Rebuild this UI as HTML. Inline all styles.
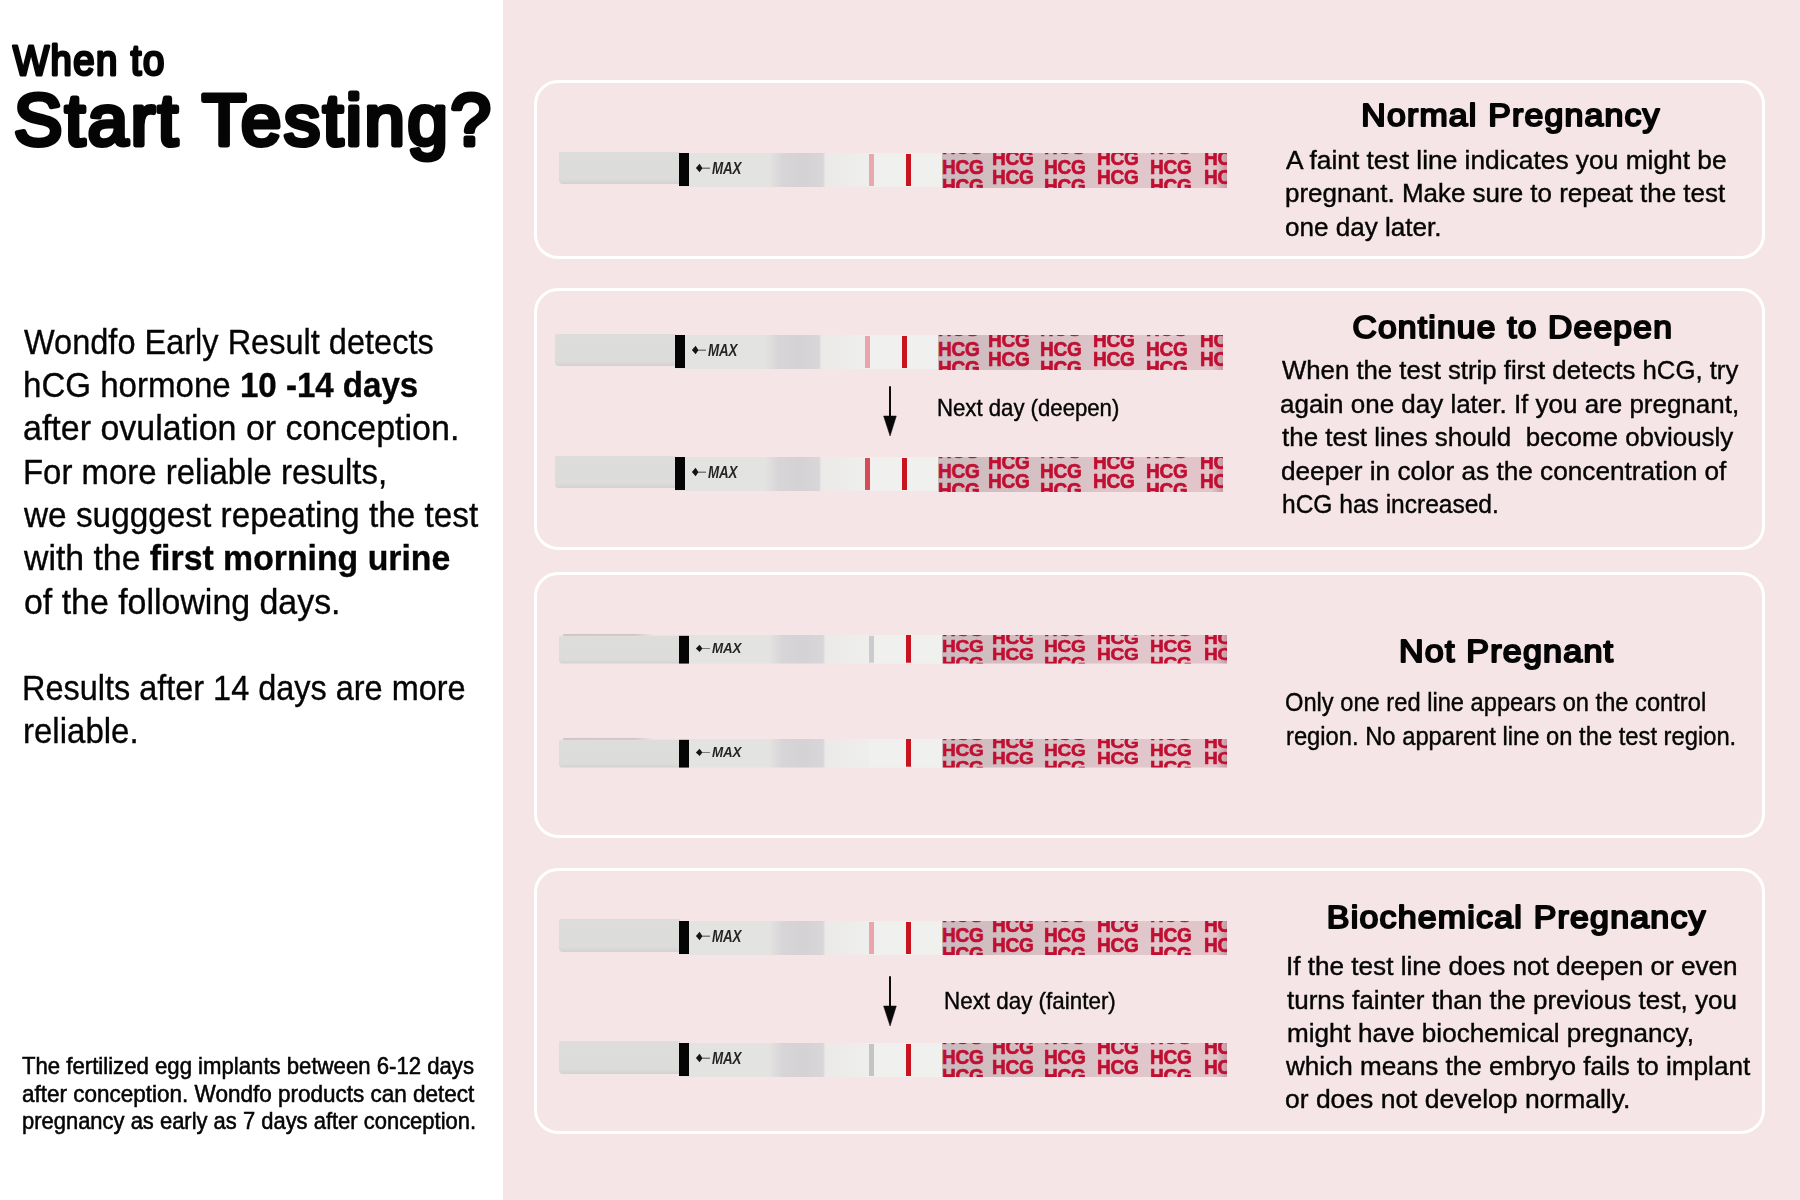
<!DOCTYPE html>
<html lang="en"><head><meta charset="utf-8"><title>When to Start Testing?</title>
<style>
html,body{margin:0;padding:0}
body{width:1800px;height:1200px;position:relative;overflow:hidden;background:#fff;font-family:"Liberation Sans",sans-serif;color:#050505}
#pink{position:absolute;left:503px;top:0;width:1297px;height:1200px;background:#f5e5e6}
.panel{position:absolute;box-sizing:border-box;border:3.7px solid #fff;border-radius:24px}
.t{position:absolute;white-space:nowrap;line-height:1;transform-origin:0 0;margin:0;padding:0;-webkit-text-stroke-color:#050505}
.t b{font-weight:700}
svg{position:absolute;overflow:visible}
svg.hd{left:0;top:0}
svg.hd text{font-family:"Liberation Sans",sans-serif;font-weight:400;fill:#050505;stroke:#050505;stroke-linejoin:round;stroke-linecap:round}
.strip{position:absolute;width:668px;height:35px;transform-origin:0 0;filter:blur(0.45px)}
.strip div{position:absolute}
.hz{left:383.4px;width:284.2px;height:34.3px;overflow:hidden;background:linear-gradient(90deg,#cbbbbe 0,#d5c0c3 35%,#e1c7cb 72%,#e2c4c9 96%,#c59aa3 100%)}
.h{position:absolute;font-weight:700;font-size:20.6px;line-height:1;color:#c00f32;-webkit-text-stroke:0.65px #c00f32;transform-origin:0 0;transform:scaleX(0.925);white-space:nowrap;letter-spacing:-0.3px}
.mx{position:absolute;font-weight:700;font-style:italic;line-height:1;color:#151515;transform-origin:0 0;transform:scaleX(0.77);white-space:nowrap;letter-spacing:-0.2px;opacity:.92}
</style></head><body>
<div id="pink"></div>
<div class="panel" style="left:534.2px;top:79.8px;width:1230.6px;height:179.7px"></div>
<div class="panel" style="left:534.2px;top:287.9px;width:1230.6px;height:262.1px"></div>
<div class="panel" style="left:534.2px;top:571.9px;width:1230.6px;height:266.1px"></div>
<div class="panel" style="left:534.2px;top:867.9px;width:1230.6px;height:265.9px"></div>
<div class="strip" style="left:559px;top:152.3px">
<div style="left:0;top:-0.60px;width:121px;height:32.6px;background:linear-gradient(180deg,#dddddb 0,#dcdcda 85%,#d2d2d0 100%);border-radius:1px 0 0 4px"></div>
<div style="left:120px;top:0.50px;width:190px;height:34.0px;background:linear-gradient(90deg,#e3e3e1 0,#e3e3e1 90px,#d8d5d8 103px,#d5d2d5 125px,#d8d6d8 144px,#ebeae8 146.5px,#eeeeec 190px)"></div>
<div style="left:120.2px;top:0.5px;width:9.4px;height:33.6px;background:#050505"></div>
<div style="left:310px;top:1.00px;width:74px;height:34.0px;background:#f0f0ee"></div>
<div style="left:310px;top:2.00px;width:5.4px;height:32.0px;background:#e9a7ae"></div>
<div style="left:346.6px;top:1.50px;width:5.8px;height:32.5px;background:#c8141f"></div>
<div class="hz" style="top:1.20px">
<span class="h" style="left:-0.6px;top:-16.07px">HCG</span>
<span class="h" style="left:-0.6px;top:3.43px">HCG</span>
<span class="h" style="left:-0.6px;top:22.93px">HCG</span>
<span class="h" style="left:49.6px;top:-5.87px">HCG</span>
<span class="h" style="left:49.6px;top:13.63px">HCG</span>
<span class="h" style="left:49.6px;top:33.13px">HCG</span>
<span class="h" style="left:101.8px;top:-16.07px">HCG</span>
<span class="h" style="left:101.8px;top:3.43px">HCG</span>
<span class="h" style="left:101.8px;top:22.93px">HCG</span>
<span class="h" style="left:155.0px;top:-5.87px">HCG</span>
<span class="h" style="left:155.0px;top:13.63px">HCG</span>
<span class="h" style="left:155.0px;top:33.13px">HCG</span>
<span class="h" style="left:207.6px;top:-16.07px">HCG</span>
<span class="h" style="left:207.6px;top:3.43px">HCG</span>
<span class="h" style="left:207.6px;top:22.93px">HCG</span>
<span class="h" style="left:261.4px;top:-5.87px">HCG</span>
<span class="h" style="left:261.4px;top:13.63px">HCG</span>
<span class="h" style="left:261.4px;top:33.13px">HCG</span>
</div>
<svg style="left:136px;top:8.9px" width="20" height="14" viewBox="0 0 20 14"><path d="M0.9 7 L4.6 2.7 L7.2 6.65 L15 6.65 L15 7.4 L7.2 7.4 L4.6 11.3 Z" fill="#141414"/></svg>
<span class="mx" style="left:152.6px;top:7.67px;font-size:17.4px">MAX</span>
</div>
<div class="strip" style="left:555px;top:334.3px">
<div style="left:0;top:-0.60px;width:121px;height:32.6px;background:linear-gradient(180deg,#dddddb 0,#dcdcda 85%,#d2d2d0 100%);border-radius:1px 0 0 4px"></div>
<div style="left:120px;top:0.50px;width:190px;height:34.0px;background:linear-gradient(90deg,#e3e3e1 0,#e3e3e1 90px,#d8d5d8 103px,#d5d2d5 125px,#d8d6d8 144px,#ebeae8 146.5px,#eeeeec 190px)"></div>
<div style="left:120.2px;top:0.5px;width:9.4px;height:33.6px;background:#050505"></div>
<div style="left:310px;top:1.00px;width:74px;height:34.0px;background:#f0f0ee"></div>
<div style="left:310px;top:2.00px;width:5.4px;height:32.0px;background:#eaa4ab"></div>
<div style="left:346.6px;top:1.50px;width:5.8px;height:32.5px;background:#c8141f"></div>
<div class="hz" style="top:1.20px">
<span class="h" style="left:-0.6px;top:-16.07px">HCG</span>
<span class="h" style="left:-0.6px;top:3.43px">HCG</span>
<span class="h" style="left:-0.6px;top:22.93px">HCG</span>
<span class="h" style="left:49.6px;top:-5.87px">HCG</span>
<span class="h" style="left:49.6px;top:13.63px">HCG</span>
<span class="h" style="left:49.6px;top:33.13px">HCG</span>
<span class="h" style="left:101.8px;top:-16.07px">HCG</span>
<span class="h" style="left:101.8px;top:3.43px">HCG</span>
<span class="h" style="left:101.8px;top:22.93px">HCG</span>
<span class="h" style="left:155.0px;top:-5.87px">HCG</span>
<span class="h" style="left:155.0px;top:13.63px">HCG</span>
<span class="h" style="left:155.0px;top:33.13px">HCG</span>
<span class="h" style="left:207.6px;top:-16.07px">HCG</span>
<span class="h" style="left:207.6px;top:3.43px">HCG</span>
<span class="h" style="left:207.6px;top:22.93px">HCG</span>
<span class="h" style="left:261.4px;top:-5.87px">HCG</span>
<span class="h" style="left:261.4px;top:13.63px">HCG</span>
<span class="h" style="left:261.4px;top:33.13px">HCG</span>
</div>
<svg style="left:136px;top:8.9px" width="20" height="14" viewBox="0 0 20 14"><path d="M0.9 7 L4.6 2.7 L7.2 6.65 L15 6.65 L15 7.4 L7.2 7.4 L4.6 11.3 Z" fill="#141414"/></svg>
<span class="mx" style="left:152.6px;top:7.67px;font-size:17.4px">MAX</span>
</div>
<div class="strip" style="left:555px;top:456.3px">
<div style="left:0;top:-0.60px;width:121px;height:32.6px;background:linear-gradient(180deg,#dddddb 0,#dcdcda 85%,#d2d2d0 100%);border-radius:1px 0 0 4px"></div>
<div style="left:120px;top:0.50px;width:190px;height:34.0px;background:linear-gradient(90deg,#e3e3e1 0,#e3e3e1 90px,#d8d5d8 103px,#d5d2d5 125px,#d8d6d8 144px,#ebeae8 146.5px,#eeeeec 190px)"></div>
<div style="left:120.2px;top:0.5px;width:9.4px;height:33.6px;background:#050505"></div>
<div style="left:310px;top:1.00px;width:74px;height:34.0px;background:#f0f0ee"></div>
<div style="left:310px;top:2.00px;width:5.4px;height:32.0px;background:#d84a58"></div>
<div style="left:346.6px;top:1.50px;width:5.8px;height:32.5px;background:#c8141f"></div>
<div class="hz" style="top:1.20px">
<span class="h" style="left:-0.6px;top:-16.07px">HCG</span>
<span class="h" style="left:-0.6px;top:3.43px">HCG</span>
<span class="h" style="left:-0.6px;top:22.93px">HCG</span>
<span class="h" style="left:49.6px;top:-5.87px">HCG</span>
<span class="h" style="left:49.6px;top:13.63px">HCG</span>
<span class="h" style="left:49.6px;top:33.13px">HCG</span>
<span class="h" style="left:101.8px;top:-16.07px">HCG</span>
<span class="h" style="left:101.8px;top:3.43px">HCG</span>
<span class="h" style="left:101.8px;top:22.93px">HCG</span>
<span class="h" style="left:155.0px;top:-5.87px">HCG</span>
<span class="h" style="left:155.0px;top:13.63px">HCG</span>
<span class="h" style="left:155.0px;top:33.13px">HCG</span>
<span class="h" style="left:207.6px;top:-16.07px">HCG</span>
<span class="h" style="left:207.6px;top:3.43px">HCG</span>
<span class="h" style="left:207.6px;top:22.93px">HCG</span>
<span class="h" style="left:261.4px;top:-5.87px">HCG</span>
<span class="h" style="left:261.4px;top:13.63px">HCG</span>
<span class="h" style="left:261.4px;top:33.13px">HCG</span>
</div>
<svg style="left:136px;top:8.9px" width="20" height="14" viewBox="0 0 20 14"><path d="M0.9 7 L4.6 2.7 L7.2 6.65 L15 6.65 L15 7.4 L7.2 7.4 L4.6 11.3 Z" fill="#141414"/></svg>
<span class="mx" style="left:152.6px;top:7.67px;font-size:17.4px">MAX</span>
</div>
<div class="strip" style="left:559px;top:635.3px;transform:scaleY(0.84)">
<div style="left:3.5px;top:-1.20px;width:90px;height:2.6px;border-radius:2px;background:linear-gradient(90deg,#c3b7b7 0,#c6baba 80%,rgba(215,205,205,0) 100%)"></div>
<div style="left:0;top:1.10px;width:121px;height:32.6px;background:linear-gradient(180deg,#dddddb 0,#dcdcda 85%,#d2d2d0 100%);border-radius:1px 0 0 4px"></div>
<div style="left:120px;top:-0.22px;width:190px;height:34.0px;background:linear-gradient(90deg,#e3e3e1 0,#e3e3e1 90px,#d8d5d8 103px,#d5d2d5 125px,#d8d6d8 144px,#ebeae8 146.5px,#eeeeec 190px)"></div>
<div style="left:120.2px;top:0.5px;width:9.4px;height:33.6px;background:#050505"></div>
<div style="left:310px;top:-0.45px;width:74px;height:34.0px;background:#f0f0ee"></div>
<div style="left:310px;top:0.55px;width:5.4px;height:32.0px;background:#cbcbcd"></div>
<div style="left:346.6px;top:0.05px;width:5.8px;height:32.5px;background:#c8141f"></div>
<div class="hz" style="top:-0.25px">
<span class="h" style="left:-0.6px;top:-16.07px">HCG</span>
<span class="h" style="left:-0.6px;top:3.43px">HCG</span>
<span class="h" style="left:-0.6px;top:22.93px">HCG</span>
<span class="h" style="left:49.6px;top:-5.87px">HCG</span>
<span class="h" style="left:49.6px;top:13.63px">HCG</span>
<span class="h" style="left:49.6px;top:33.13px">HCG</span>
<span class="h" style="left:101.8px;top:-16.07px">HCG</span>
<span class="h" style="left:101.8px;top:3.43px">HCG</span>
<span class="h" style="left:101.8px;top:22.93px">HCG</span>
<span class="h" style="left:155.0px;top:-5.87px">HCG</span>
<span class="h" style="left:155.0px;top:13.63px">HCG</span>
<span class="h" style="left:155.0px;top:33.13px">HCG</span>
<span class="h" style="left:207.6px;top:-16.07px">HCG</span>
<span class="h" style="left:207.6px;top:3.43px">HCG</span>
<span class="h" style="left:207.6px;top:22.93px">HCG</span>
<span class="h" style="left:261.4px;top:-5.87px">HCG</span>
<span class="h" style="left:261.4px;top:13.63px">HCG</span>
<span class="h" style="left:261.4px;top:33.13px">HCG</span>
</div>
<svg style="left:136px;top:8.9px" width="20" height="14" viewBox="0 0 20 14"><path d="M0.9 7 L4.6 2.7 L7.2 6.65 L15 6.65 L15 7.4 L7.2 7.4 L4.6 11.3 Z" fill="#141414"/></svg>
<span class="mx" style="left:152.6px;top:7.67px;font-size:17.4px">MAX</span>
</div>
<div class="strip" style="left:559px;top:739.3px;transform:scaleY(0.84)">
<div style="left:3.5px;top:-1.20px;width:90px;height:2.6px;border-radius:2px;background:linear-gradient(90deg,#c3b7b7 0,#c6baba 80%,rgba(215,205,205,0) 100%)"></div>
<div style="left:0;top:1.10px;width:121px;height:32.6px;background:linear-gradient(180deg,#dddddb 0,#dcdcda 85%,#d2d2d0 100%);border-radius:1px 0 0 4px"></div>
<div style="left:120px;top:-0.22px;width:190px;height:34.0px;background:linear-gradient(90deg,#e3e3e1 0,#e3e3e1 90px,#d8d5d8 103px,#d5d2d5 125px,#d8d6d8 144px,#ebeae8 146.5px,#eeeeec 190px)"></div>
<div style="left:120.2px;top:0.5px;width:9.4px;height:33.6px;background:#050505"></div>
<div style="left:310px;top:-0.45px;width:74px;height:34.0px;background:#f0f0ee"></div>
<div style="left:346.6px;top:0.05px;width:5.8px;height:32.5px;background:#c8141f"></div>
<div class="hz" style="top:-0.25px">
<span class="h" style="left:-0.6px;top:-16.07px">HCG</span>
<span class="h" style="left:-0.6px;top:3.43px">HCG</span>
<span class="h" style="left:-0.6px;top:22.93px">HCG</span>
<span class="h" style="left:49.6px;top:-5.87px">HCG</span>
<span class="h" style="left:49.6px;top:13.63px">HCG</span>
<span class="h" style="left:49.6px;top:33.13px">HCG</span>
<span class="h" style="left:101.8px;top:-16.07px">HCG</span>
<span class="h" style="left:101.8px;top:3.43px">HCG</span>
<span class="h" style="left:101.8px;top:22.93px">HCG</span>
<span class="h" style="left:155.0px;top:-5.87px">HCG</span>
<span class="h" style="left:155.0px;top:13.63px">HCG</span>
<span class="h" style="left:155.0px;top:33.13px">HCG</span>
<span class="h" style="left:207.6px;top:-16.07px">HCG</span>
<span class="h" style="left:207.6px;top:3.43px">HCG</span>
<span class="h" style="left:207.6px;top:22.93px">HCG</span>
<span class="h" style="left:261.4px;top:-5.87px">HCG</span>
<span class="h" style="left:261.4px;top:13.63px">HCG</span>
<span class="h" style="left:261.4px;top:33.13px">HCG</span>
</div>
<svg style="left:136px;top:8.9px" width="20" height="14" viewBox="0 0 20 14"><path d="M0.9 7 L4.6 2.7 L7.2 6.65 L15 6.65 L15 7.4 L7.2 7.4 L4.6 11.3 Z" fill="#141414"/></svg>
<span class="mx" style="left:152.6px;top:7.67px;font-size:17.4px">MAX</span>
</div>
<div class="strip" style="left:559px;top:920.0px">
<div style="left:0;top:-0.60px;width:121px;height:32.6px;background:linear-gradient(180deg,#dddddb 0,#dcdcda 85%,#d2d2d0 100%);border-radius:1px 0 0 4px"></div>
<div style="left:120px;top:0.50px;width:190px;height:34.0px;background:linear-gradient(90deg,#e3e3e1 0,#e3e3e1 90px,#d8d5d8 103px,#d5d2d5 125px,#d8d6d8 144px,#ebeae8 146.5px,#eeeeec 190px)"></div>
<div style="left:120.2px;top:0.5px;width:9.4px;height:33.6px;background:#050505"></div>
<div style="left:310px;top:1.00px;width:74px;height:34.0px;background:#f0f0ee"></div>
<div style="left:310px;top:2.00px;width:5.4px;height:32.0px;background:#eaa4ab"></div>
<div style="left:346.6px;top:1.50px;width:5.8px;height:32.5px;background:#c8141f"></div>
<div class="hz" style="top:1.20px">
<span class="h" style="left:-0.6px;top:-16.07px">HCG</span>
<span class="h" style="left:-0.6px;top:3.43px">HCG</span>
<span class="h" style="left:-0.6px;top:22.93px">HCG</span>
<span class="h" style="left:49.6px;top:-5.87px">HCG</span>
<span class="h" style="left:49.6px;top:13.63px">HCG</span>
<span class="h" style="left:49.6px;top:33.13px">HCG</span>
<span class="h" style="left:101.8px;top:-16.07px">HCG</span>
<span class="h" style="left:101.8px;top:3.43px">HCG</span>
<span class="h" style="left:101.8px;top:22.93px">HCG</span>
<span class="h" style="left:155.0px;top:-5.87px">HCG</span>
<span class="h" style="left:155.0px;top:13.63px">HCG</span>
<span class="h" style="left:155.0px;top:33.13px">HCG</span>
<span class="h" style="left:207.6px;top:-16.07px">HCG</span>
<span class="h" style="left:207.6px;top:3.43px">HCG</span>
<span class="h" style="left:207.6px;top:22.93px">HCG</span>
<span class="h" style="left:261.4px;top:-5.87px">HCG</span>
<span class="h" style="left:261.4px;top:13.63px">HCG</span>
<span class="h" style="left:261.4px;top:33.13px">HCG</span>
</div>
<svg style="left:136px;top:8.9px" width="20" height="14" viewBox="0 0 20 14"><path d="M0.9 7 L4.6 2.7 L7.2 6.65 L15 6.65 L15 7.4 L7.2 7.4 L4.6 11.3 Z" fill="#141414"/></svg>
<span class="mx" style="left:152.6px;top:7.67px;font-size:17.4px">MAX</span>
</div>
<div class="strip" style="left:559px;top:1042.0px">
<div style="left:0;top:-0.60px;width:121px;height:32.6px;background:linear-gradient(180deg,#dddddb 0,#dcdcda 85%,#d2d2d0 100%);border-radius:1px 0 0 4px"></div>
<div style="left:120px;top:0.50px;width:190px;height:34.0px;background:linear-gradient(90deg,#e3e3e1 0,#e3e3e1 90px,#d8d5d8 103px,#d5d2d5 125px,#d8d6d8 144px,#ebeae8 146.5px,#eeeeec 190px)"></div>
<div style="left:120.2px;top:0.5px;width:9.4px;height:33.6px;background:#050505"></div>
<div style="left:310px;top:1.00px;width:74px;height:34.0px;background:#f0f0ee"></div>
<div style="left:310px;top:2.00px;width:5.4px;height:32.0px;background:#c4c4c4"></div>
<div style="left:346.6px;top:1.50px;width:5.8px;height:32.5px;background:#c8141f"></div>
<div class="hz" style="top:1.20px">
<span class="h" style="left:-0.6px;top:-16.07px">HCG</span>
<span class="h" style="left:-0.6px;top:3.43px">HCG</span>
<span class="h" style="left:-0.6px;top:22.93px">HCG</span>
<span class="h" style="left:49.6px;top:-5.87px">HCG</span>
<span class="h" style="left:49.6px;top:13.63px">HCG</span>
<span class="h" style="left:49.6px;top:33.13px">HCG</span>
<span class="h" style="left:101.8px;top:-16.07px">HCG</span>
<span class="h" style="left:101.8px;top:3.43px">HCG</span>
<span class="h" style="left:101.8px;top:22.93px">HCG</span>
<span class="h" style="left:155.0px;top:-5.87px">HCG</span>
<span class="h" style="left:155.0px;top:13.63px">HCG</span>
<span class="h" style="left:155.0px;top:33.13px">HCG</span>
<span class="h" style="left:207.6px;top:-16.07px">HCG</span>
<span class="h" style="left:207.6px;top:3.43px">HCG</span>
<span class="h" style="left:207.6px;top:22.93px">HCG</span>
<span class="h" style="left:261.4px;top:-5.87px">HCG</span>
<span class="h" style="left:261.4px;top:13.63px">HCG</span>
<span class="h" style="left:261.4px;top:33.13px">HCG</span>
</div>
<svg style="left:136px;top:8.9px" width="20" height="14" viewBox="0 0 20 14"><path d="M0.9 7 L4.6 2.7 L7.2 6.65 L15 6.65 L15 7.4 L7.2 7.4 L4.6 11.3 Z" fill="#141414"/></svg>
<span class="mx" style="left:152.6px;top:7.67px;font-size:17.4px">MAX</span>
</div>
<svg style="left:879.5px;top:385.5px" width="20" height="51" viewBox="0 0 20 51"><path d="M9 0.4 Q10 -0.3 11 0.4 V30.5 H9 Z" fill="#0c0c0c"/><path d="M3.6 30 L16.3 30 L10.1 50 Z" fill="#080808" stroke="#080808" stroke-width="0.5" stroke-linejoin="round"/></svg>
<svg style="left:879.5px;top:975.5px" width="20" height="51" viewBox="0 0 20 51"><path d="M9 0.4 Q10 -0.3 11 0.4 V30.5 H9 Z" fill="#0c0c0c"/><path d="M3.6 30 L16.3 30 L10.1 50 Z" fill="#080808" stroke="#080808" stroke-width="0.5" stroke-linejoin="round"/></svg>
<svg class="hd" width="1800" height="1200" viewBox="0 0 1800 1200">
<text id="t0" transform="translate(12.92 74.50) scale(0.8982 1)" font-size="42.6" stroke-width="3.0" letter-spacing="1.65">When to</text>
<text id="t1" transform="translate(14.00 144.70) scale(0.9958 1)" font-size="72.7" stroke-width="5.0" letter-spacing="2.75">Start Testing?</text>
<text id="t14" transform="translate(1361.36 126.00) scale(1.0919 1)" font-size="31" stroke-width="2.0" letter-spacing="1.10">Normal Pregnancy</text>
<text id="t18" transform="translate(1352.46 337.90) scale(1.0853 1)" font-size="31" stroke-width="2.0" letter-spacing="1.10">Continue to Deepen</text>
<text id="t25" transform="translate(1398.88 662.00) scale(1.1000 1)" font-size="31" stroke-width="2.0" letter-spacing="1.10">Not Pregnant</text>
<text id="t28" transform="translate(1326.81 928.10) scale(1.0951 1)" font-size="31" stroke-width="2.0" letter-spacing="1.10">Biochemical Pregnancy</text>
</svg>
<div class="t" id="t2" style="left:23.98px;top:324.1px;font-size:35px;-webkit-text-stroke-width:0.35px;transform:scaleX(0.9291)">Wondfo Early Result detects</div>
<div class="t" id="t3" style="left:23.11px;top:367.4px;font-size:35px;-webkit-text-stroke-width:0.35px;transform:scaleX(0.9449)">hCG hormone <b>10 -14 days</b></div>
<div class="t" id="t4" style="left:23.05px;top:410.2px;font-size:35px;-webkit-text-stroke-width:0.35px;transform:scaleX(0.9708)">after ovulation or conception.</div>
<div class="t" id="t5" style="left:22.66px;top:453.7px;font-size:35px;-webkit-text-stroke-width:0.35px;transform:scaleX(0.9405)">For more reliable results,</div>
<div class="t" id="t6" style="left:24.49px;top:497.3px;font-size:35px;-webkit-text-stroke-width:0.35px;transform:scaleX(0.9530)">we sugggest repeating the test</div>
<div class="t" id="t7" style="left:24.01px;top:540.2px;font-size:35px;-webkit-text-stroke-width:0.35px;transform:scaleX(0.9655)">with the <b>first morning urine</b></div>
<div class="t" id="t8" style="left:23.55px;top:583.5px;font-size:35px;-webkit-text-stroke-width:0.35px;transform:scaleX(0.9683)">of the following days.</div>
<div class="t" id="t9" style="left:22.19px;top:669.6px;font-size:35px;-webkit-text-stroke-width:0.35px;transform:scaleX(0.9269)">Results after 14 days are more</div>
<div class="t" id="t10" style="left:22.62px;top:713.4px;font-size:35px;-webkit-text-stroke-width:0.35px;transform:scaleX(0.9436)">reliable.</div>
<div class="t" id="t11" style="left:22.48px;top:1055.2px;font-size:23.4px;-webkit-text-stroke-width:0.55px;transform:scaleX(0.9472)">The fertilized egg implants between 6-12 days</div>
<div class="t" id="t12" style="left:21.53px;top:1083.2px;font-size:23.4px;-webkit-text-stroke-width:0.55px;transform:scaleX(0.9617)">after conception. Wondfo products can detect</div>
<div class="t" id="t13" style="left:21.55px;top:1109.5px;font-size:23.4px;-webkit-text-stroke-width:0.55px;transform:scaleX(0.9387)">pregnancy as early as 7 days after conception.</div>
<div class="t" id="t15" style="left:1285.51px;top:147.5px;font-size:25.6px;-webkit-text-stroke-width:0.4px;transform:scaleX(1.0290)">A faint test line indicates you might be</div>
<div class="t" id="t16" style="left:1285.48px;top:181.1px;font-size:25.6px;-webkit-text-stroke-width:0.4px;transform:scaleX(1.0143)">pregnant. Make sure to repeat the test</div>
<div class="t" id="t17" style="left:1284.98px;top:215.0px;font-size:25.6px;-webkit-text-stroke-width:0.4px;transform:scaleX(1.0187)">one day later.</div>
<div class="t" id="t19" style="left:1281.50px;top:357.8px;font-size:25.6px;-webkit-text-stroke-width:0.4px;transform:scaleX(1.0057)">When the test strip first detects hCG, try</div>
<div class="t" id="t20" style="left:1280.48px;top:391.5px;font-size:25.6px;-webkit-text-stroke-width:0.4px;transform:scaleX(1.0147)">again one day later. If you are pregnant,</div>
<div class="t" id="t21" style="left:1282.49px;top:425.0px;font-size:25.6px;-webkit-text-stroke-width:0.4px;transform:scaleX(1.0135)">the test lines should&nbsp; become obviously</div>
<div class="t" id="t22" style="left:1281.49px;top:458.5px;font-size:25.6px;-webkit-text-stroke-width:0.4px;transform:scaleX(1.0230)">deeper in color as the concentration of</div>
<div class="t" id="t23" style="left:1282.08px;top:492.0px;font-size:25.6px;-webkit-text-stroke-width:0.4px;transform:scaleX(0.9586)">hCG has increased.</div>
<div class="t" id="t24" style="left:937.11px;top:397.2px;font-size:23.6px;-webkit-text-stroke-width:0.4px;transform:scaleX(0.9393)">Next day (deepen)</div>
<div class="t" id="t26" style="left:1285.09px;top:690.0px;font-size:25.6px;-webkit-text-stroke-width:0.4px;transform:scaleX(0.9250)">Only one red line appears on the control</div>
<div class="t" id="t27" style="left:1286.07px;top:723.6px;font-size:25.6px;-webkit-text-stroke-width:0.4px;transform:scaleX(0.9279)">region. No apparent line on the test region.</div>
<div class="t" id="t29" style="left:1285.95px;top:954.0px;font-size:25.6px;-webkit-text-stroke-width:0.4px;transform:scaleX(1.0205)">If the test line does not deepen or even</div>
<div class="t" id="t30" style="left:1287.00px;top:987.8px;font-size:25.6px;-webkit-text-stroke-width:0.4px;transform:scaleX(1.0168)">turns fainter than the previous test, you</div>
<div class="t" id="t31" style="left:1286.97px;top:1021.3px;font-size:25.6px;-webkit-text-stroke-width:0.4px;transform:scaleX(1.0192)">might have biochemical pregnancy,</div>
<div class="t" id="t32" style="left:1286.01px;top:1054.2px;font-size:25.6px;-webkit-text-stroke-width:0.4px;transform:scaleX(1.0197)">which means the embryo fails to implant</div>
<div class="t" id="t33" style="left:1284.98px;top:1087.3px;font-size:25.6px;-webkit-text-stroke-width:0.4px;transform:scaleX(1.0344)">or does not develop normally.</div>
<div class="t" id="t34" style="left:944.08px;top:989.5px;font-size:23.6px;-webkit-text-stroke-width:0.4px;transform:scaleX(0.9494)">Next day (fainter)</div>
</body></html>
